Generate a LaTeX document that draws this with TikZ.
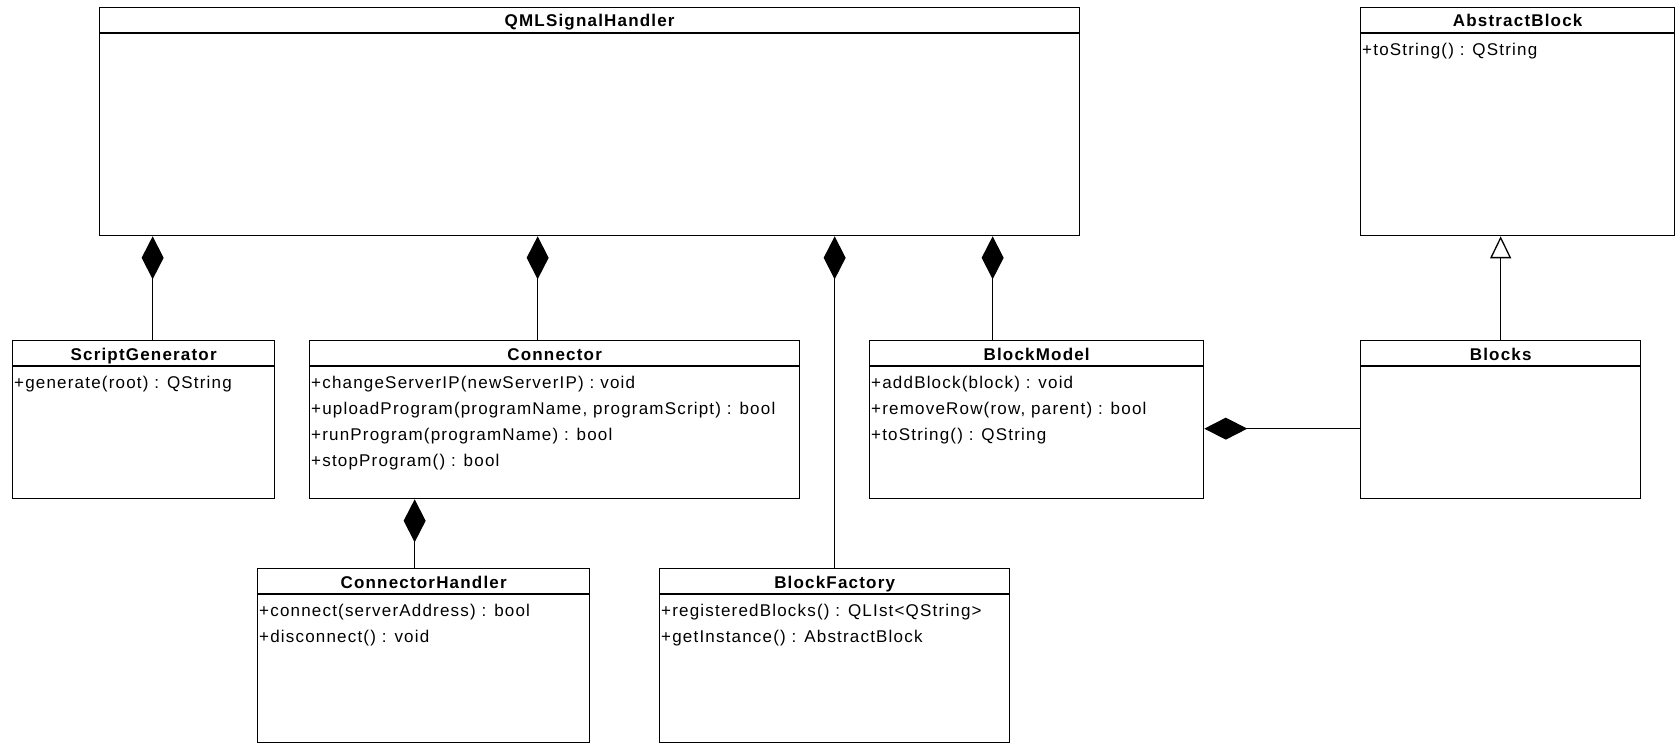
\documentclass[tikz,border=0pt]{standalone}
\usepackage{fontspec}
\setmainfont{Liberation Sans}[LetterSpace=7]
\usetikzlibrary{arrows.meta,positioning}

\tikzset{
  cls/.style={draw, line width=1.3pt, anchor=north west, inner sep=0pt, fill=white},
  ttl/.style={font=\fontsize{17}{20}\selectfont\bfseries, anchor=base, inner sep=0pt},
  ops/.style={font=\fontsize{17}{26}\selectfont, anchor=base west, inner sep=0pt},
  sep/.style={line width=1.3pt},
  comp/.style={line width=1.3pt, -{Diamond[length=43pt,width=22pt]}},
  inh/.style={line width=1.3pt, -{Triangle[open,length=22pt,width=21pt,fill=white]}}
}

\begin{document}
\begin{tikzpicture}[x=1pt,y=-1pt]
\useasboundingbox[fill=white] (0,0) rectangle (1675,743);
% top row
\node[cls, minimum width=980pt, minimum height=228pt] (v1) at (99,7) {};
\node[ttl] (v2) at ([yshift=-20pt]v1.north) {QMLSignalHandler};
\draw[sep] ([yshift=-26pt]v1.north west) -- ([yshift=-26pt]v1.north east);
\node[cls, minimum width=314pt, minimum height=228pt] (v3) at (1360,7) {};
\node[ttl] (v4) at ([yshift=-20pt]v3.north) {AbstractBlock};
\draw[sep] ([yshift=-26pt]v3.north west) -- ([yshift=-26pt]v3.north east);
\node[ops] (v5) at ([xshift=2pt,yshift=-49pt]v3.north west) {\begin{tabular}[t]{@{}l@{}}
+toString() : QString
\end{tabular}};
% middle row
\node[cls, minimum width=262pt, minimum height=158pt] (v6) at (12,340) {};
\node[ttl] (v7) at ([yshift=-20pt]v6.north) {ScriptGenerator};
\draw[sep] ([yshift=-26pt]v6.north west) -- ([yshift=-26pt]v6.north east);
\node[ops] (v8) at ([xshift=2pt,yshift=-48pt]v6.north west) {\begin{tabular}[t]{@{}l@{}}
+generate(root) : QString
\end{tabular}};
\node[cls, minimum width=490pt, minimum height=158pt] (v9) at (309,340) {};
\node[ttl] (v10) at ([yshift=-20pt]v9.north) {Connector};
\draw[sep] ([yshift=-26pt]v9.north west) -- ([yshift=-26pt]v9.north east);
\node[ops] (v11) at ([xshift=2pt,yshift=-48pt]v9.north west) {\begin{tabular}[t]{@{}l@{}}
+changeServerIP(newServerIP) : void\\
+uploadProgram(programName, programScript) : bool\\
+runProgram(programName) : bool\\
+stopProgram() : bool
\end{tabular}};
\node[cls, minimum width=334pt, minimum height=158pt] (v12) at (869,340) {};
\node[ttl] (v13) at ([yshift=-20pt]v12.north) {BlockModel};
\draw[sep] ([yshift=-26pt]v12.north west) -- ([yshift=-26pt]v12.north east);
\node[ops] (v14) at ([xshift=2pt,yshift=-48pt]v12.north west) {\begin{tabular}[t]{@{}l@{}}
+addBlock(block) : void\\
+removeRow(row, parent) : bool\\
+toString() : QString
\end{tabular}};
\node[cls, minimum width=280pt, minimum height=158pt] (v15) at (1360,340) {};
\node[ttl] (v16) at ([yshift=-20pt]v15.north) {Blocks};
\draw[sep] ([yshift=-26pt]v15.north west) -- ([yshift=-26pt]v15.north east);
% bottom row
\node[cls, minimum width=332pt, minimum height=174pt] (v17) at (257,568) {};
\node[ttl] (v18) at ([yshift=-20pt]v17.north) {ConnectorHandler};
\draw[sep] ([yshift=-26pt]v17.north west) -- ([yshift=-26pt]v17.north east);
\node[ops] (v19) at ([xshift=2pt,yshift=-48pt]v17.north west) {\begin{tabular}[t]{@{}l@{}}
+connect(serverAddress) : bool\\
+disconnect() : void
\end{tabular}};
\node[cls, minimum width=350pt, minimum height=174pt] (v20) at (659,568) {};
\node[ttl] (v21) at ([yshift=-20pt]v20.north) {BlockFactory};
\draw[sep] ([yshift=-26pt]v20.north west) -- ([yshift=-26pt]v20.north east);
\node[ops] (v22) at ([xshift=2pt,yshift=-48pt]v20.north west) {\begin{tabular}[t]{@{}l@{}}
+registeredBlocks() : QLIst<QString>\\
+getInstance() : AbstractBlock
\end{tabular}};
% relations
\draw[comp] ([xshift=9pt]v6.north) -- ([xshift=9pt]v6.north |- v1.south);
\draw[comp] ([xshift=-17pt]v9.north) -- ([xshift=-17pt]v9.north |- v1.south);
\draw[comp] (v20.north) -- (v20.north |- v1.south);
\draw[comp] ([xshift=-44pt]v12.north) -- ([xshift=-44pt]v12.north |- v1.south);
\draw[inh] (v15.north) -- (v15.north |- v3.south);
\draw[comp] ([xshift=-9pt]v17.north) -- ([xshift=-9pt]v17.north |- v9.south);
\draw[comp] ([yshift=-9pt]v15.west) -- ([yshift=-9pt]v15.west -| v12.east);
\end{tikzpicture}
\end{document}
